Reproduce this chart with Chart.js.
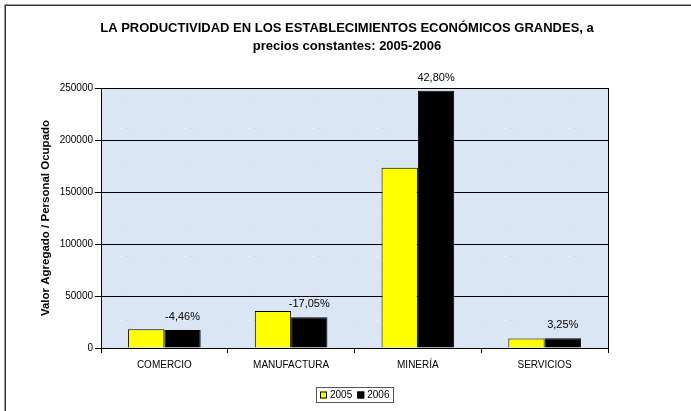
<!DOCTYPE html>
<html>
<head>
<meta charset="utf-8">
<script src="https://cdn.jsdelivr.net/npm/chart.js@4.4.0/dist/chart.umd.min.js"></script>
<style>
  html, body { margin: 0; padding: 0; background: #fff; }
  #wrap { width: 691px; height: 411px; }
</style>
</head>
<body>
<div id="wrap"><canvas id="prodChart" width="691" height="411"></canvas></div>
<script>
// Data
const categories = ['COMERCIO', 'MANUFACTURA', 'MINERÍA', 'SERVICIOS'];
const values2005 = [18000, 35500, 173200, 9100];
const values2006 = [17200, 29450, 247400, 9400];
const changeLabels = ['-4,46%', '-17,05%', '42,80%', '3,25%'];
const yTicks = [0, 50000, 100000, 150000, 200000, 250000];
const titleLines = ['LA PRODUCTIVIDAD EN LOS ESTABLECIMIENTOS ECONÓMICOS GRANDES, a', 'precios constantes: 2005-2006'];

const FONT = 'Arial, "Liberation Sans", sans-serif';

// speckled light blue texture for the plot area
function makeTexture() {
    const c = document.createElement('canvas');
    c.width = 64; c.height = 64;
    const g = c.getContext('2d');
    g.fillStyle = '#dae6f4';
    g.fillRect(0, 0, 64, 64);
    let h = 12345;
    for (let i = 0; i < 700; i++) {
        h = (h * 1103515245 + 12345) & 0x7fffffff;
        const x = h % 64;
        h = (h * 1103515245 + 12345) & 0x7fffffff;
        const y = h % 64;
        g.fillStyle = (i % 3 === 0) ? '#cddcef' : '#e9f0f9';
        g.fillRect(x, y, 2, 1);
    }
    return c;
}

const backgroundPlugin = {
    id: 'plotBackground',
    beforeDraw(chart) {
        const { ctx, chartArea } = chart;
        ctx.save();
        ctx.fillStyle = '#fff';
        ctx.fillRect(0, 0, chart.width, chart.height);
        ctx.fillStyle = ctx.createPattern(makeTexture(), 'repeat');
        ctx.fillRect(chartArea.left, chartArea.top, chartArea.right - chartArea.left, chartArea.bottom - chartArea.top);
        // outer frame (only top and left edges fall inside the picture)
        ctx.strokeStyle = '#333';
        ctx.lineWidth = 1.5;
        ctx.strokeRect(5.25, 5.25, chart.width + 20, chart.height + 20);
        // title
        ctx.fillStyle = '#000';
        ctx.font = 'bold 13px ' + FONT;
        ctx.textAlign = 'center';
        ctx.textBaseline = 'middle';
        titleLines.forEach((t, i) => ctx.fillText(t, 347, 28 + i * 18));
        ctx.restore();
    },
    afterDatasetsDraw(chart) {
        const { ctx, chartArea } = chart;
        ctx.save();
        ctx.strokeStyle = '#000';
        ctx.lineWidth = 1;
        ctx.strokeRect(Math.round(chartArea.left) + 0.5, Math.round(chartArea.top) + 0.5,
            Math.round(chartArea.right - chartArea.left), Math.round(chartArea.bottom - chartArea.top));
        ctx.restore();
    }
};

// percentage labels above the 2006 bars
const changeLabelPlugin = {
    id: 'changeLabels',
    afterDatasetsDraw(chart) {
        const { ctx } = chart;
        const meta = chart.getDatasetMeta(1);
        ctx.save();
        ctx.font = '11px ' + FONT;
        ctx.fillStyle = '#000';
        ctx.textAlign = 'center';
        ctx.textBaseline = 'middle';
        meta.data.forEach((bar, i) => {
            ctx.fillText(changeLabels[i], bar.x, bar.y - 13);
        });
        ctx.restore();
    }
};

// boxed legend at the bottom
const boxLegendPlugin = {
    id: 'boxLegend',
    afterDraw(chart) {
        const { ctx } = chart;
        const cx = (chart.chartArea.left + chart.chartArea.right) / 2;
        const y = 395;
        ctx.save();
        ctx.font = '10px ' + FONT;
        ctx.textBaseline = 'middle';
        const sw = 7, gap = 3, spacing = 5;
        const items = chart.data.datasets.map(ds => ({
            text: ds.label, color: ds.backgroundColor, w: sw + gap + ctx.measureText(ds.label).width
        }));
        const total = items.reduce((s, it) => s + it.w, 0) + spacing * (items.length - 1);
        const padX = 4;
        let x = Math.round(cx - total / 2);
        ctx.strokeStyle = '#555';
        ctx.lineWidth = 1;
        ctx.strokeRect(x - padX + 0.5, y - 8 + 0.5, Math.round(total + padX * 2), 15);
        items.forEach(it => {
            ctx.fillStyle = it.color;
            ctx.fillRect(x, y - 3.5, sw, sw);
            ctx.strokeStyle = '#000';
            ctx.strokeRect(x + 0.5, y - 3.5 + 0.5, sw - 1, sw - 1);
            ctx.fillStyle = '#000';
            ctx.fillText(it.text, x + sw + gap, y + 0.5);
            x += it.w + spacing;
        });
        ctx.restore();
    }
};

const ctx = document.getElementById('prodChart').getContext('2d');
new Chart(ctx, {
    type: 'bar',
    data: {
        labels: categories,
        datasets: [
            {
                label: '2005',
                data: values2005,
                backgroundColor: '#ffff00',
                borderColor: '#000',
                borderWidth: 1,
                categoryPercentage: 0.573,
                barPercentage: 1.0
            },
            {
                label: '2006',
                data: values2006,
                backgroundColor: '#000000',
                borderColor: '#000',
                borderWidth: 1,
                categoryPercentage: 0.573,
                barPercentage: 1.0
            }
        ]
    },
    options: {
        responsive: false,
        animation: false,
        devicePixelRatio: 1,
        layout: {
            padding: { left: 5, right: 83, top: 88, bottom: 33 }
        },
        scales: {
            x: {
                offset: true,
                grid: {
                    offset: true,
                    drawOnChartArea: false,
                    drawTicks: true,
                    tickLength: 5,
                    color: '#000'
                },
                border: { color: '#000' },
                ticks: {
                    color: '#000',
                    font: { family: FONT, size: 10 },
                    padding: 6,
                    maxRotation: 0
                },
                afterFit(scale) { scale.height = 30; }
            },
            y: {
                min: 0,
                max: 250000,
                afterBuildTicks(scale) {
                    scale.ticks = yTicks.map(v => ({ value: v }));
                },
                grid: {
                    color: '#000',
                    tickLength: 6,
                    drawTicks: true
                },
                border: { color: '#000' },
                ticks: {
                    color: '#000',
                    font: { family: FONT, size: 10 },
                    padding: 2,
                    callback: v => String(v)
                },
                title: {
                    display: true,
                    text: 'Valor Agregado / Personal Ocupado',
                    color: '#000',
                    font: { family: FONT, size: 11.5, weight: 'bold' },
                    padding: { top: 34, bottom: 4 }
                },
                afterFit(scale) { scale.width = 96; }
            }
        },
        plugins: {
            legend: { display: false },
            tooltip: { enabled: false },
            title: { display: false }
        }
    },
    plugins: [backgroundPlugin, changeLabelPlugin, boxLegendPlugin]
});
</script>
</body>
</html>
